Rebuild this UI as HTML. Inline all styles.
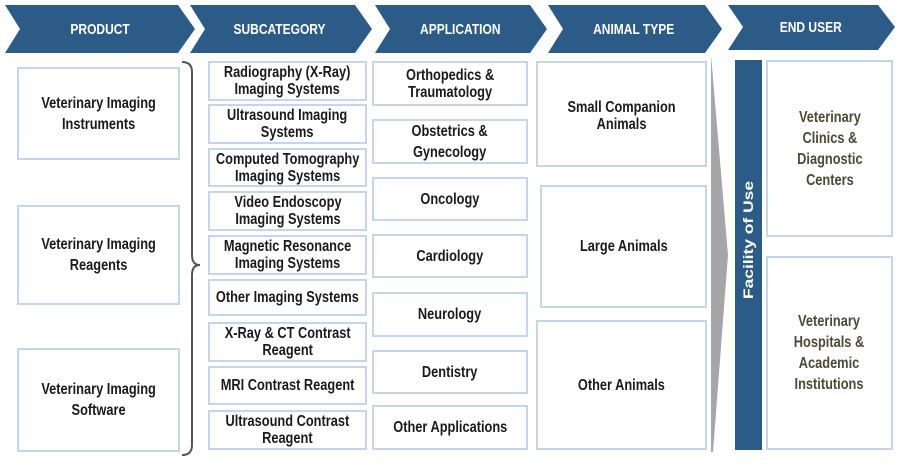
<!DOCTYPE html>
<html><head><meta charset="utf-8"><style>
body{margin:0;width:900px;height:464px;background:#fff;position:relative;overflow:hidden;font-family:"Liberation Sans",sans-serif;font-weight:bold}
.b{position:absolute;border:2px solid #c5d5ea;box-sizing:border-box;display:flex;align-items:center;justify-content:center;text-align:center;font-size:16px;line-height:17px;color:#1a1a1a;background:#fff}
.b span,.h span{display:inline-block;white-space:nowrap;transform:scaleX(0.8)}
.h{position:absolute;top:5px;height:48px;display:flex;align-items:center;justify-content:center;color:#fff;font-size:15px}
.e{color:#4a4a36;font-size:16px;line-height:21px}
</style></head><body>
<svg width="900" height="464" style="position:absolute;left:0;top:0">
<g fill="#2c5b88">
<polygon points="5,5 178,5 195,29 178,53 5,53 20,29"/>
<polygon points="190,5 355,5 372,29 355,53 190,53 205,29"/>
<polygon points="375,5 530,5 547,29 530,53 375,53 390,29"/>
<polygon points="548,5 705,5 722,29 705,53 548,53 563,29"/>
<polygon points="728,5 878,5 895,27 878,50 728,50 743,27"/>
</g>
<polygon points="711,55 728,255 713,452 711,452" fill="#a6a6a6"/>
<path d="M182,62 Q192,62 192,72 L192,255 Q192,265 200,265 Q192,265 192,275 L192,445 Q192,455 182,455" fill="none" stroke="#555" stroke-width="2"/>
<rect x="735" y="60" width="27" height="390" fill="#2c5b88"/>
<text x="753" y="240" fill="#fff" font-size="14" font-family="Liberation Sans,sans-serif" font-weight="bold" text-anchor="middle" textLength="118" lengthAdjust="spacingAndGlyphs" transform="rotate(-90 753 240)">Facility of Use</text>
</svg>
<div class="h" style="left:20px;width:160px"><span>PRODUCT</span></div>
<div class="h" style="left:205px;width:150px"><span>SUBCATEGORY</span></div>
<div class="h" style="left:390px;width:140px"><span>APPLICATION</span></div>
<div class="h" style="left:563px;width:142px"><span>ANIMAL TYPE</span></div>
<div class="h" style="left:743px;width:135px;top:3px"><span>END USER</span></div>

<div class="b" style="left:17px;top:67px;width:163px;height:93px;line-height:21px"><span>Veterinary Imaging<br>Instruments</span></div>
<div class="b" style="left:17px;top:205px;width:163px;height:100px;line-height:21px"><span>Veterinary Imaging<br>Reagents</span></div>
<div class="b" style="left:17px;top:348px;width:163px;height:104px;line-height:21px"><span>Veterinary Imaging<br>Software</span></div>

<div class="b" style="left:208px;top:61px;width:159px;height:40px"><span>Radiography (X-Ray)<br>Imaging Systems</span></div>
<div class="b" style="left:208px;top:104px;width:159px;height:40px"><span>Ultrasound Imaging<br>Systems</span></div>
<div class="b" style="left:208px;top:148px;width:159px;height:39px"><span>Computed Tomography<br>Imaging Systems</span></div>
<div class="b" style="left:208px;top:191px;width:159px;height:40px"><span>Video Endoscopy<br>Imaging Systems</span></div>
<div class="b" style="left:208px;top:235px;width:159px;height:40px"><span>Magnetic Resonance<br>Imaging Systems</span></div>
<div class="b" style="left:208px;top:279px;width:159px;height:37px"><span>Other Imaging Systems</span></div>
<div class="b" style="left:208px;top:322px;width:159px;height:40px"><span>X-Ray &amp; CT Contrast<br>Reagent</span></div>
<div class="b" style="left:208px;top:366px;width:159px;height:39px"><span>MRI Contrast Reagent</span></div>
<div class="b" style="left:208px;top:410px;width:159px;height:40px"><span>Ultrasound Contrast<br>Reagent</span></div>

<div class="b" style="left:372px;top:61px;width:156px;height:45px"><span>Orthopedics &amp;<br>Traumatology</span></div>
<div class="b" style="left:372px;top:119px;width:156px;height:45px;line-height:21px"><span>Obstetrics &amp;<br>Gynecology</span></div>
<div class="b" style="left:372px;top:177px;width:156px;height:44px"><span>Oncology</span></div>
<div class="b" style="left:372px;top:234px;width:156px;height:44px"><span>Cardiology</span></div>
<div class="b" style="left:372px;top:292px;width:156px;height:45px"><span>Neurology</span></div>
<div class="b" style="left:372px;top:350px;width:156px;height:44px"><span>Dentistry</span></div>
<div class="b" style="left:372px;top:405px;width:156px;height:45px"><span>Other Applications</span></div>

<div class="b" style="left:536px;top:61px;width:171px;height:106px;align-items:flex-start;padding-top:36px"><span>Small Companion<br>Animals</span></div>
<div class="b" style="left:540px;top:185px;width:167px;height:123px"><span>Large Animals</span></div>
<div class="b" style="left:536px;top:320px;width:171px;height:130px"><span>Other Animals</span></div>

<div class="b e" style="left:766px;top:60px;width:127px;height:177px"><span>Veterinary<br>Clinics &amp;<br>Diagnostic<br>Centers</span></div>
<div class="b e" style="left:766px;top:256px;width:127px;height:194px"><span>Veterinary<br>Hospitals &amp;<br>Academic<br>Institutions</span></div>
</body></html>
